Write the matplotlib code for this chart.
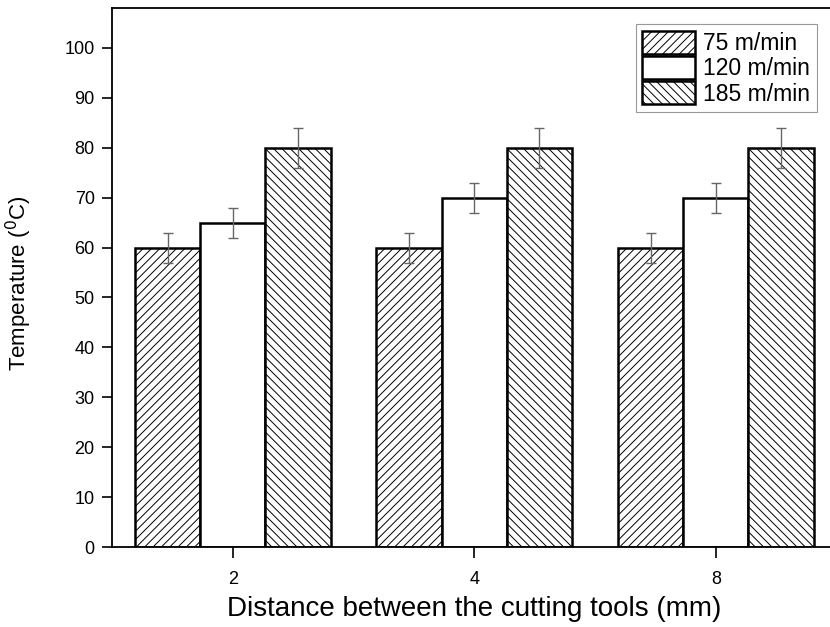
import numpy as np
import matplotlib
matplotlib.use("Agg")
import matplotlib.pyplot as plt

plt.rcParams['font.family'] = ['Liberation Sans', 'DejaVu Sans']
plt.rcParams['hatch.linewidth'] = 0.7
plt.rcParams['hatch.color'] = '#555555'

# data
distances = ['2', '4', '8']
speeds = ['75 m/min', '120 m/min', '185 m/min']
temp_75 = [60, 60, 60]
temp_120 = [65, 70, 70]
temp_185 = [80, 80, 80]
err_75 = [3, 3, 3]
err_120 = [3, 3, 3]
err_185 = [4, 4, 4]

hatches = ['////', '', '\\\\\\\\']

fig = plt.figure(figsize=(8.3, 6.27), dpi=100)
ax = fig.add_axes([112 / 830, 80 / 627, 724.5 / 830, 539 / 627])

x = np.arange(len(distances))
width = 0.27
series = [(temp_75, err_75), (temp_120, err_120), (temp_185, err_185)]
for i, (vals, errs) in enumerate(series):
    pos = x + (i - 1) * width
    ax.bar(pos, vals, width, color='white', edgecolor='black', linewidth=1.8,
           hatch=hatches[i], label=speeds[i], zorder=2)
    ax.errorbar(pos, vals, yerr=errs, fmt='none', ecolor='#666666',
                elinewidth=1.0, capsize=3.3, capthick=1.0, zorder=3)

ax.set_xlim(-0.5, 2.5)
ax.set_ylim(0, 108)
ax.set_yticks(np.arange(0, 101, 10))
ax.set_xticks(x)
ax.set_xticklabels(distances)
ax.tick_params(axis='x', direction='out', length=8, width=1.2, pad=9, labelsize=13)
ax.tick_params(axis='y', direction='out', length=7.5, width=1.2, pad=5, labelsize=13)
for s in ax.spines.values():
    s.set_linewidth(1.3)

ax.set_xlabel('Distance between the cutting tools (mm)', fontsize=20, va='top')
ax.xaxis.set_label_coords(0.5, -0.091)
ax.set_ylabel('Temperature ($^{0}$C)', fontsize=16)
ax.yaxis.set_label_coords(-0.108, 0.49)

leg = ax.legend(loc='upper right', bbox_to_anchor=(817 / 830, 1 - 24 / 627),
                bbox_transform=fig.transFigure, borderaxespad=0,
                fontsize=16.5, handlelength=2.3, handleheight=1.15,
                handletextpad=0.35, labelspacing=0.05, borderpad=0.3,
                fancybox=False, framealpha=1)
leg.get_frame().set_edgecolor('#999999')
leg.get_frame().set_linewidth(0.8)

fig.savefig('out.png', dpi=100)
